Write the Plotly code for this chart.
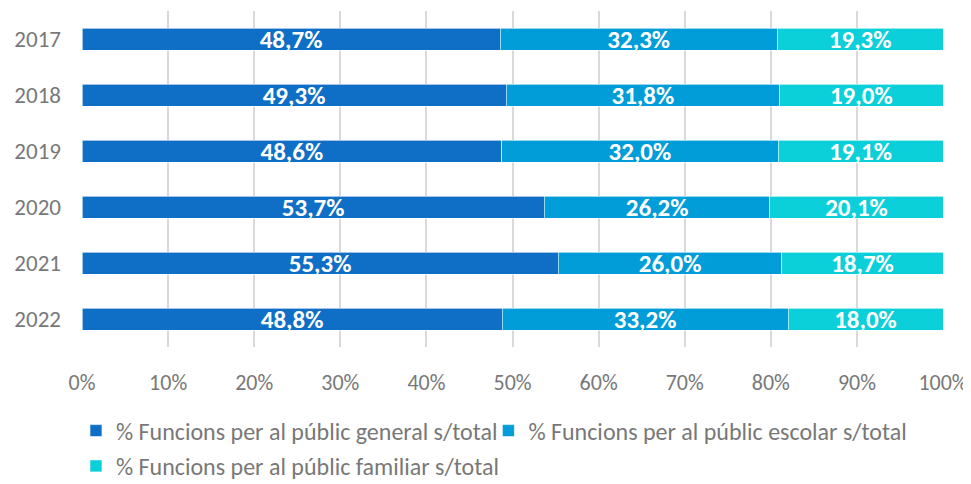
import plotly.graph_objects as go

years = ["2017", "2018", "2019", "2020", "2021", "2022"]
general = [48.7, 49.3, 48.6, 53.7, 55.3, 48.8]
escolar = [32.3, 31.8, 32.0, 26.2, 26.0, 33.2]
familiar = [19.3, 19.0, 19.1, 20.1, 18.7, 18.0]
names = [
    "% Funcions per al públic general s/total",
    "% Funcions per al públic escolar s/total",
    "% Funcions per al públic familiar s/total",
]
colors = ["#0F6FC6", "#009DD9", "#0BD0D9"]
x_ticks = list(range(0, 101, 10))
x_ticktext = [f"{t}%" for t in x_ticks]

FONT = "Carlito, Calibri, Lato, sans-serif"
GRAY = "#787878"
legend_ids = ["legend", "legend2", "legend3"]


def fmt(v):
    return f"{v:.1f}".replace(".", ",") + "%"


fig = go.Figure()
for vals, name, col, lg in zip([general, escolar, familiar], names, colors, legend_ids):
    fig.add_trace(go.Bar(
        y=years, x=vals, name=name, orientation="h",
        marker=dict(color=col, line=dict(color="white", width=0.6)),
        text=[fmt(v) for v in vals], texttemplate="%{text}",
        textposition="inside", insidetextanchor="middle",
        constraintext="none",
        textfont=dict(color="white", size=25, family=FONT, weight="bold"),
        legend=lg, showlegend=True,
        hoverinfo="skip",
    ))

leg_common = dict(orientation="h", xanchor="left", yanchor="middle",
                  bgcolor="rgba(0,0,0,0)",
                  font=dict(size=24, color=GRAY), itemwidth=30)

fig.update_layout(
    barmode="stack", barnorm="percent", bargap=0.607,
    width=963, height=476, showlegend=True,
    margin=dict(l=74, r=28, t=3, b=137, autoexpand=False),
    plot_bgcolor="white", paper_bgcolor="white",
    font=dict(family=FONT, size=22, color=GRAY),
    xaxis=dict(range=[0, 100], tickvals=x_ticks, ticktext=x_ticktext,
               showgrid=True, gridcolor="#D9D9D9", gridwidth=1.5,
               zeroline=False, showline=False, ticks="", automargin=False,
               ticklabelstandoff=20,
               tickfont=dict(size=22, color=GRAY)),
    yaxis=dict(autorange="reversed", showgrid=False, ticks="", automargin=False,
               ticklabelstandoff=20,
               tickfont=dict(size=23, color=GRAY)),
    legend=dict(x=-0.007, y=-0.25, **leg_common),
    legend2=dict(x=0.472, y=-0.25, **leg_common),
    legend3=dict(x=-0.007, y=-0.355, **leg_common),
)

fig.write_html("out.html")
